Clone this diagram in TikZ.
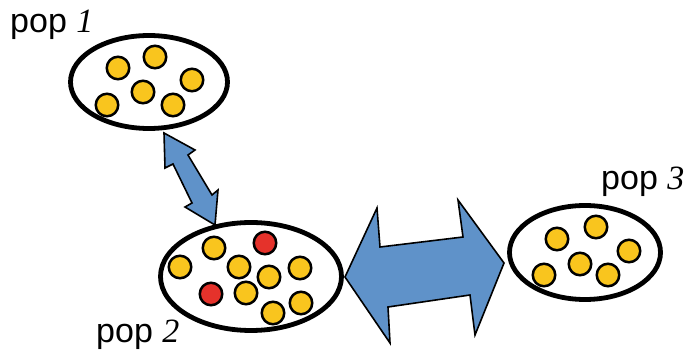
\documentclass[tikz,border=0pt]{standalone}
\usepackage{fontspec}
\setmainfont{Liberation Sans}
\newfontfamily\numfont{Liberation Serif}
\usetikzlibrary{shapes.geometric}
\definecolor{dotyellow}{HTML}{F9C51E}
\definecolor{dotred}{HTML}{E5322B}
\definecolor{arrowblue}{HTML}{5F92C9}
\tikzset{
  popring/.style={draw=black, line width=4.8pt, fill=white, ellipse, inner sep=0pt},
  ydot/.style={circle, draw=black, line width=2.5pt, fill=dotyellow, minimum size=22.5pt, inner sep=0pt},
  rdot/.style={ydot, fill=dotred},
  blockarrow/.style={draw=black, line width=1.6pt, fill=arrowblue, line join=miter},
  poplabel/.style={anchor=base west, inner sep=0pt, font=\fontsize{34}{36}\selectfont}
}
\begin{document}
\begin{tikzpicture}[x=1pt,y=-1pt]
\useasboundingbox (0,0) rectangle (696,352);
% populations
\node[popring, minimum width=157pt, minimum height=93pt] (p1) at (149,82) {};
\node[popring, minimum width=181pt, minimum height=108pt] (p2) at (251,276.5) {};
\node[popring, minimum width=151pt, minimum height=94pt] (p3) at (585,252.5) {};
% dots pop 1
\node[ydot] (a1) at (118,68) {};
\node[ydot] (a2) at (155,57) {};
\node[ydot] (a3) at (192,80) {};
\node[ydot] (a4) at (143,92) {};
\node[ydot] (a5) at (107,105) {};
\node[ydot] (a6) at (173,105) {};
% dots pop 2
\node[ydot] (b1) at (180,267) {};
\node[ydot] (b2) at (214,248) {};
\node[rdot] (b3) at (265,243) {};
\node[ydot] (b4) at (239,267) {};
\node[ydot] (b5) at (300,268) {};
\node[ydot] (b6) at (269,277) {};
\node[rdot] (b7) at (211,294) {};
\node[ydot] (b8) at (246,293) {};
\node[ydot] (b9) at (301,303) {};
\node[ydot] (b10) at (273,313) {};
% dots pop 3
\node[ydot] (c1) at (557,239) {};
\node[ydot] (c2) at (596,227) {};
\node[ydot] (c3) at (629,251) {};
\node[ydot] (c4) at (580,264) {};
\node[ydot] (c5) at (544,275) {};
\node[ydot] (c6) at (608,275) {};
% arrows
\draw[blockarrow] (164,133) -- (195,150) -- (188,155) -- (212,195) -- (218,190)
  -- (215,225) -- (185,207) -- (192,203) -- (173,164) -- (165,168) -- cycle;
\draw[blockarrow] (345,277) -- (377,208) -- (380,247) -- (463,237) -- (458,200)
  -- (504,263) -- (475,335) -- (470,295) -- (388,307) -- (390,343) -- cycle;
% labels
\node[poplabel] (l1) at (10,33) {pop {\numfont\itshape 1}};
\node[poplabel] (l2) at (96,343) {pop {\numfont\itshape 2}};
\node[poplabel] (l3) at (601,190) {pop {\numfont\itshape 3}};
\end{tikzpicture}
\end{document}
